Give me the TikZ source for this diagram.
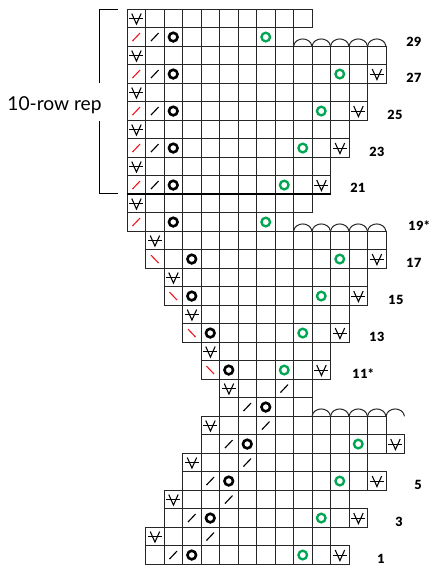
\documentclass[tikz,border=0pt]{standalone}
\usepackage{fontspec}
\setmainfont{Lato}
\newfontfamily\numfont[LetterSpace=4]{Lato Black}
\definecolor{knitgreen}{RGB}{0,166,81}
\definecolor{knitred}{RGB}{237,28,36}
\tikzset{
  x=0.75pt,y=-0.75pt,
  gridline/.style={draw=black!85,line width=0.75pt},
  heavyline/.style={draw=black,line width=1.3pt},
  bracketline/.style={draw=black,line width=0.75pt},
  slip/.style={draw=black,line width=0.8pt},
  slant/.style={draw=black,line width=0.85pt},
  redslant/.style={draw=knitred,line width=0.85pt},
  yoblack/.style={draw=black,line width=1.95pt},
  yogreen/.style={draw=knitgreen,line width=1.75pt},
  rownum/.style={font=\numfont\fontsize{9.5}{11}\selectfont,inner sep=0pt,anchor=center},
}
\newcommand{\pxx}[1]{\fpeval{127+18.5*(#1)}}
\newcommand{\pxy}[1]{\fpeval{9.3+18.5*(#1)}}
% row r from col a to col b
\newcommand{\gridrow}[3]{%
  \foreach \c in {#2,...,#3}{%
    \draw[gridline] (\pxx{\c},\pxy{#1}) rectangle (\pxx{\c+1},\pxy{#1+1});
  }}
\newcommand{\slipst}[2]{%
  \begin{scope}[shift={(\pxx{#2+0.5},\pxy{#1+0.5})}]
  \draw[slip] (-6.8,0.3) -- (7,0.3);
  \draw[slip] (-4.5,-5) -- (0.2,5.5) -- (4.9,-5);
  \end{scope}}
\newcommand{\yo}[3][yoblack]{\draw[#1] (\pxx{#3+0.5},\pxy{#2+0.5}) circle (4.3);}
\newcommand{\fwd}[3][slant]{\draw[#1] (\pxx{#3+0.5}-3.8,\pxy{#2+0.5}+4) -- (\pxx{#3+0.5}+3.8,\pxy{#2+0.5}-4);}
\newcommand{\bwd}[2]{\draw[redslant] (\pxx{#2+0.5}-3.8,\pxy{#1+0.5}-4) -- (\pxx{#2+0.5}+3.8,\pxy{#1+0.5}+4);}
\newcommand{\scallops}[3]{%
  \foreach \c in {#2,...,#3}{%
    \draw[gridline] (\pxx{\c},\pxy{#1}) .. controls (\pxx{\c+0.08},\pxy{#1}-9.8) and (\pxx{\c+0.92},\pxy{#1}-9.8) .. (\pxx{\c+1},\pxy{#1});
  }}
\begin{document}
\begin{tikzpicture}
\useasboundingbox (0,0) rectangle (434,570);
% row extents: r, left, last col
\foreach \r/\a/\b in {0/0/9,1/0/8,2/0/13,3/0/13,4/0/12,5/0/12,6/0/11,7/0/11,8/0/10,9/0/10,
  10/0/9,11/0/8,12/1/13,13/1/13,14/2/12,15/2/12,16/3/11,17/3/11,18/4/10,19/4/10,
  20/5/9,21/5/9,22/4/13,23/4/14,24/3/12,25/3/13,26/2/11,27/2/12,28/1/10,29/1/11}{
  \gridrow{\r}{\a}{\b}
}
\scallops{2}{9}{13}
\scallops{12}{9}{13}
\scallops{22}{10}{14}
\draw[heavyline] (\pxx{0},\pxy{10}) -- (\pxx{11},\pxy{10});
% symbols
\foreach \r in {0,2,...,10}{\slipst{\r}{0}}
\foreach \r in {1,3,...,9}{\fwd[redslant]{\r}{0}\fwd{\r}{1}\yo{\r}{2}}
\fwd[redslant]{11}{0}\yo{11}{2}
\yo[yogreen]{1}{7}
\yo[yogreen]{3}{11}\slipst{3}{13}
\yo[yogreen]{5}{10}\slipst{5}{12}
\yo[yogreen]{7}{9}\slipst{7}{11}
\yo[yogreen]{9}{8}\slipst{9}{10}
\yo[yogreen]{11}{7}
\slipst{12}{1}\bwd{13}{1}\yo{13}{3}\yo[yogreen]{13}{11}\slipst{13}{13}
\slipst{14}{2}\bwd{15}{2}\yo{15}{3}\yo[yogreen]{15}{10}\slipst{15}{12}
\slipst{16}{3}\bwd{17}{3}\yo{17}{4}\yo[yogreen]{17}{9}\slipst{17}{11}
\slipst{18}{4}\bwd{19}{4}\yo{19}{5}\yo[yogreen]{19}{8}\slipst{19}{10}
\slipst{20}{5}\fwd{20}{8}
\fwd{21}{6}\yo{21}{7}
\slipst{22}{4}\fwd{22}{7}
\fwd{23}{5}\yo{23}{6}\yo[yogreen]{23}{12}\slipst{23}{14}
\slipst{24}{3}\fwd{24}{6}
\fwd{25}{4}\yo{25}{5}\yo[yogreen]{25}{11}\slipst{25}{13}
\slipst{26}{2}\fwd{26}{5}
\fwd{27}{3}\yo{27}{4}\yo[yogreen]{27}{10}\slipst{27}{12}
\slipst{28}{1}\fwd{28}{4}
\fwd{29}{2}\yo{29}{3}\yo[yogreen]{29}{9}\slipst{29}{11}
% bracket
\coordinate (bt) at (117.7,9.3);
\coordinate (bb) at (117.7,194);
\draw[bracketline] (bt) -- (99,9.3) -- (99,83);
\draw[bracketline] (bb) -- (99,194) -- (99,120.7);
\node[inner sep=0pt,font=\fontsize{14.4}{16}\selectfont] (rep) at (54.5,105.5) {10-row rep};
% row numbers
\foreach \n/\t/\x/\y in {n29/29/414/42,n27/27/414/78,n25/25/395/115,n23/23/377/152,n21/21/358/188,
  n19/19*/419/226,n17/17/414/263,n15/15/396/300,n13/13/377/337,n11/11*/363/374,
  n9/9/438/410,n7/7/438/447,n5/5/418/485,n3/3/399/522,n1/1/381/559}{
  \node[rownum] (\n) at (\x,\y) {\t};
}
\end{tikzpicture}
\end{document}
